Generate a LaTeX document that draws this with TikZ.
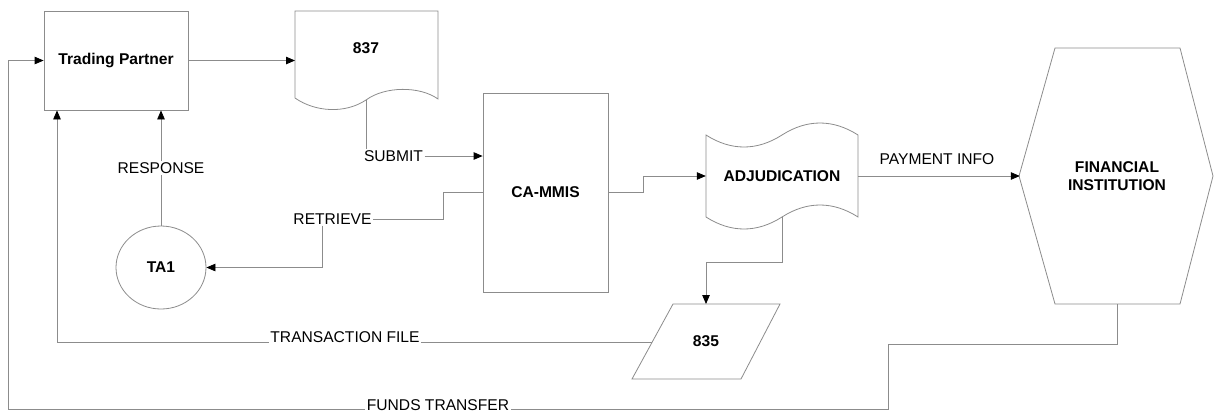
\documentclass[tikz,border=0pt]{standalone}
\usepackage{fontspec}
\setmainfont{Liberation Sans}
\usetikzlibrary{arrows.meta,shapes.geometric}
\definecolor{ln}{RGB}{140,140,140}
\begin{document}
\begin{tikzpicture}[x=1pt,y=-1pt,
  every node/.style={font=\fontsize{15.6}{18}\selectfont, inner sep=0pt, text=black},
  ln/.style={draw=ln, line width=0.8pt},
  arr/.style={ln, -{Triangle[length=9pt,width=7.5pt,color=black]}},
  bl/.style={font=\fontsize{15.6}{18}\selectfont\bfseries, align=center},
  lab/.style={fill=white, inner xsep=1.5pt, inner ysep=1pt},
  shp/.style={draw=ln, line width=0.8pt, fill=white}]
\useasboundingbox (0,0) rectangle (1214,413);

% shapes
\node[shp, bl, minimum width=144pt, minimum height=99pt] (tp) at (116,60.5) {Trading Partner};
\node[shp, bl, minimum width=125pt, minimum height=199pt] (cm) at (545.5,192.5) {CA-MMIS};
\node[shp, bl, ellipse, minimum width=90pt, minimum height=83pt] (ta) at (161,267.5) {TA1};

\draw[shp] (295,11) -- (438,11) -- (438,99) .. controls (420,86) and (385,86) .. (366,100) coordinate (w837)
  .. controls (345,114) and (315,112) .. (295,98) -- cycle;
\node[bl] (d837) at (366,48) {837};

\draw[shp] (706,135) .. controls (731,151) and (757,151) .. (782,135) .. controls (807,119) and (833,119) .. (858,135)
  -- (858,217) .. controls (833,201) and (807,201) .. (782,217) coordinate (wadj)
  .. controls (757,233) and (731,233) .. (706,217) -- cycle;
\node[bl, minimum width=152pt, minimum height=82pt] (adj) at (782,176) {ADJUDICATION};

\draw[shp] (673,304) -- (780,304) -- (741,379) -- (632,379) -- cycle;
\node[bl] (p835) at (706,341.5) {835};
\coordinate (p835t) at (706,304);
\coordinate (p835l) at (652,342);

\draw[shp] (1055,48) -- (1180,48) -- (1213,176) -- (1180,304) -- (1055,304) -- (1019,176) -- cycle;
\node[bl, minimum width=194pt, minimum height=256pt] (fi) at (1117,176) {FINANCIAL\\INSTITUTION};

% labels
\node[lab] (lsub) at (393.5,156) {SUBMIT};
\node[lab] (lret) at (332.5,219) {RETRIEVE};
\node[lab] (lres) at (161,168) {RESPONSE};
\node[lab] (ltf) at (345,337.5) {TRANSACTION FILE};
\node[lab] (lft) at (438,405) {FUNDS TRANSFER};
\node[lab] (lpi) at (937,159) {PAYMENT INFO};

% coordinates
\coordinate (d837w) at (295,60.5);
\coordinate (rb1) at (443,192.5);
\coordinate (rb2) at (322,267.5);
\coordinate (tfc) at (57,342);
\coordinate (f1) at (1117,344);
\coordinate (f2) at (888,344);
\coordinate (f3) at (888,409);
\coordinate (f4) at (8,409);
\coordinate (f5) at (8,60.5);
\coordinate (c1) at (643,192.5);
\coordinate (a1) at (782,262);

% connectors
\draw[arr] (tp.east) -- (d837w);
\draw[ln] (w837) -- (w837 |- lsub.north);
\draw[arr] (lsub.east) -- (lsub.east -| cm.west);
\draw[ln] (cm.west) -- (rb1) |- (lret.east);
\draw[arr] (lret.south -| rb2) -- (rb2) -- (ta.east);
\draw[ln] (ta.north) -- (lres.south);
\draw[arr] (lres.north) -- (tp.south -| lres.north);
\draw[ln] (p835l) -- (p835l -| ltf.east);
\draw[arr] (p835l -| ltf.west) -- (tfc) -- (tp.south -| tfc);
\draw[ln] (fi.south) -- (f1) -- (f2) -- (f3) -- (f3 -| lft.east);
\draw[arr] (f3 -| lft.west) -- (f4) -- (f5) -- (tp.west);
\draw[arr] (cm.east) -- (c1) |- (adj.west);
\draw[arr] (wadj) -- (a1) -| (p835t);
\draw[arr] (adj.east) -- (fi.west);
\end{tikzpicture}
\end{document}
